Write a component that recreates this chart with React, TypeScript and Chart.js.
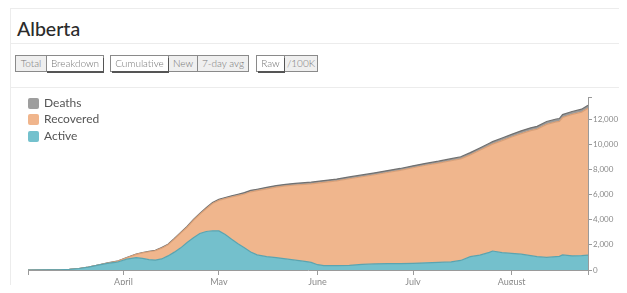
import React, { useEffect, useRef } from "react";
import { Chart, registerables } from "chart.js";

Chart.register(...registerables);

const startDate = "2020-03-02";

const dates = [
  "2020-03-02", "2020-03-08", "2020-03-12", "2020-03-15", "2020-03-18", "2020-03-21", "2020-03-24",
  "2020-03-27", "2020-03-30", "2020-04-02", "2020-04-05", "2020-04-07", "2020-04-09", "2020-04-11",
  "2020-04-13", "2020-04-15", "2020-04-17", "2020-04-19", "2020-04-21", "2020-04-23", "2020-04-25",
  "2020-04-27", "2020-04-29", "2020-05-01", "2020-05-03", "2020-05-05", "2020-05-07", "2020-05-09",
  "2020-05-11", "2020-05-13", "2020-05-16", "2020-05-19", "2020-05-22", "2020-05-25", "2020-05-28",
  "2020-05-30", "2020-06-01", "2020-06-03", "2020-06-07", "2020-06-11", "2020-06-15", "2020-06-19",
  "2020-06-23", "2020-06-27", "2020-07-01", "2020-07-05", "2020-07-09", "2020-07-13", "2020-07-16",
  "2020-07-19", "2020-07-22", "2020-07-25", "2020-07-26", "2020-07-29", "2020-08-01", "2020-08-04",
  "2020-08-07", "2020-08-09", "2020-08-12", "2020-08-15", "2020-08-16", "2020-08-17", "2020-08-20",
  "2020-08-23", "2020-08-25",
];

const active = [
  0, 10, 20, 50, 117, 222, 385,
  520, 620, 860, 990, 930, 820, 790,
  880, 1120, 1420, 1760, 2180, 2560, 2900,
  3060, 3120, 3110, 2820, 2440, 2090, 1760,
  1430, 1200, 1060, 990, 880, 780, 680,
  600, 420, 350, 350, 370, 440, 480,
  500, 500, 530, 570, 600, 640, 760,
  1060, 1180, 1400, 1510, 1380, 1320, 1260,
  1140, 1060, 1000, 1060, 1080, 1200, 1120,
  1150, 1190,
];

const recovered = [
  0, 0, 0, 0, 3, 7, 14,
  38, 72, 115, 256, 432, 628, 740,
  856, 882, 1030, 1177, 1221, 1394, 1527,
  1810, 2163, 2421, 2848, 3362, 3826, 4281,
  4786, 5103, 5390, 5595, 5801, 5976, 6120,
  6238, 6487, 6616, 6732, 6880, 6969, 7088,
  7247, 7416, 7595, 7753, 7891, 8045, 8070,
  8092, 8335, 8487, 8494, 8905, 9248, 9584,
  9940, 10138, 10575, 10712, 10731, 10920, 11250,
  11399, 11668,
];

const deaths = [
  0, 0, 0, 0, 0, 1, 1,
  2, 8, 15, 24, 28, 32, 40,
  44, 48, 50, 53, 59, 66, 73,
  80, 87, 89, 92, 98, 104, 109,
  114, 117, 120, 125, 129, 134, 140,
  142, 143, 144, 148, 150, 151, 152,
  153, 154, 155, 157, 159, 165, 170,
  178, 185, 193, 196, 205, 212, 216,
  220, 222, 225, 228, 229, 230, 230,
  231, 232,
];

const monthTickDates = ["2020-04-01", "2020-05-01", "2020-06-01", "2020-07-01", "2020-08-01"];
const monthTickLabels = ["April", "May", "June", "July", "August"];

const yTickValues = [0, 2000, 4000, 6000, 8000, 10000, 12000];
const yTickLabels = ["0", "2,000", "4,000", "6,000", "8,000", "10,000", "12,000"];
const yMax = 13750;

const seriesNames = ["Active", "Recovered", "Deaths"];
const fillColors = ["#74c0cc", "#f0b68d", "#9b9b9b"];
const lineColors = ["#5aa4b0", "#d9a078", "#707070"];

const dayOf = (d: string) => Math.round((Date.parse(d) - Date.parse(startDate)) / 86400000);

const FONT = "Lato, 'Open Sans', sans-serif";
const CANVAS_W = 660;

function ChartCanvas() {
  const ref = useRef<HTMLCanvasElement>(null);
  useEffect(() => {
    if (!ref.current) return;
    const days = dates.map(dayOf);
    const lastDay = days[days.length - 1];
    const tickDays = monthTickDates.map(dayOf);
    const series = [active, recovered, deaths];
    const chart = new Chart(ref.current, {
      type: "line",
      data: {
        datasets: series.map((vals, i) => ({
          label: seriesNames[i],
          data: vals.map((v, j) => ({ x: days[j], y: v })),
          backgroundColor: fillColors[i],
          borderColor: lineColors[i],
          borderWidth: 1.2,
          pointRadius: 0,
          tension: 0,
          fill: i === 0 ? "origin" : "-1",
        })),
      },
      options: {
        animation: false,
        responsive: false,
        layout: { padding: { left: 28, top: 9, right: 0, bottom: 0 } },
        plugins: { legend: { display: false }, tooltip: { enabled: false } },
        scales: {
          x: {
            type: "linear",
            min: 0,
            max: lastDay,
            afterFit: (s: any) => { s.height = 23; },
            afterBuildTicks: (s: any) => {
              s.ticks = [{ value: 0 }, ...tickDays.map((v) => ({ value: v })), { value: lastDay }];
            },
            ticks: {
              autoSkip: false,
              maxRotation: 0,
              padding: 2,
              color: "#8a8a8a",
              font: { family: FONT, size: 9 },
              callback: (v: any) => {
                const k = tickDays.indexOf(Number(v));
                return k >= 0 ? monthTickLabels[k] : "";
              },
            },
            grid: { drawOnChartArea: false, drawTicks: true, tickLength: 5, color: "#9a9a9a" },
            border: { display: true, color: "#9a9a9a", width: 1 },
          },
          y: {
            position: "right",
            stacked: true,
            min: 0,
            max: yMax,
            afterFit: (s: any) => { s.width = CANVAS_W - 588; },
            afterBuildTicks: (s: any) => {
              s.ticks = [...yTickValues.map((v) => ({ value: v })), { value: yMax }];
            },
            ticks: {
              autoSkip: false,
              padding: 1,
              color: "#8a8a8a",
              font: { family: FONT, size: 8 },
              callback: (v: any) => {
                const k = yTickValues.indexOf(Number(v));
                return k >= 0 ? yTickLabels[k] : "";
              },
            },
            grid: { drawOnChartArea: false, drawTicks: true, tickLength: 4, color: "#9a9a9a" },
            border: { display: true, color: "#9a9a9a", width: 1 },
          },
        },
      },
    } as any);
    return () => chart.destroy();
  }, []);
  return <canvas ref={ref} width={CANVAS_W} height={205} style={{ display: "block", width: CANVAS_W, height: 205 }} />;
}

type Btn = { label: string; width: number; selected: boolean };
const groups: { left: number; buttons: Btn[] }[] = [
  { left: 15, buttons: [{ label: "Total", width: 31, selected: false }, { label: "Breakdown", width: 58, selected: true }] },
  {
    left: 110,
    buttons: [
      { label: "Cumulative", width: 58, selected: true },
      { label: "New", width: 30, selected: false },
      { label: "7-day avg", width: 52, selected: false },
    ],
  },
  { left: 256, buttons: [{ label: "Raw", width: 28, selected: true }, { label: "/100K", width: 34, selected: false }] },
];

const legendItems = [
  { label: "Deaths", color: "#9e9e9e", top: 97 },
  { label: "Recovered", color: "#f0b58c", top: 113 },
  { label: "Active", color: "#74c1cd", top: 130 },
];

export default function App() {
  return (
    <div style={{ position: "relative", margin: -8, width: 627, height: 293, overflow: "hidden", background: "#fff", fontFamily: FONT }}>
      <div style={{ position: "absolute", left: 10, top: 8, width: 640, height: 300, border: "1px solid #ececec", boxSizing: "border-box" }} />
      <div style={{ position: "absolute", left: 10, top: 43, width: 640, height: 1, background: "#ececec" }} />
      <div style={{ position: "absolute", left: 10, top: 87, width: 640, height: 1, background: "#ececec" }} />
      <div style={{ position: "absolute", left: 17, top: 16, fontSize: 19.5, fontWeight: 500, color: "#2b2b2b", lineHeight: "26px" }}>
        Alberta
      </div>
      {groups.map((g, gi) => (
        <div key={gi} style={{ position: "absolute", left: g.left, top: 55, height: 17, display: "flex", border: "1px solid #8a8a8a", boxSizing: "border-box" }}>
          {g.buttons.map((b, bi) => (
            <div
              key={bi}
              style={{
                width: b.width - 1,
                height: 15,
                boxSizing: "border-box",
                borderLeft: bi === 0 ? "none" : "1px solid #8a8a8a",
                background: b.selected ? "#fff" : "#efefef",
                boxShadow: b.selected ? "1px 2px 0 #555" : "none",
                position: "relative",
                zIndex: b.selected ? 1 : 0,
                fontSize: 10,
                fontWeight: 300,
                color: "#777",
                lineHeight: "15px",
                textAlign: "center",
                whiteSpace: "nowrap",
              }}
            >
              {b.label}
            </div>
          ))}
        </div>
      ))}
      <div style={{ position: "absolute", left: 0, top: 88, width: CANVAS_W, height: 205 }}>
        <ChartCanvas />
      </div>
      {legendItems.map((it) => (
        <div key={it.label} style={{ position: "absolute", left: 28, top: it.top, height: 12, display: "flex", alignItems: "center" }}>
          <div style={{ width: 11, height: 11, borderRadius: 2, background: it.color }} />
          <span style={{ marginLeft: 5, fontSize: 12, color: "#555", lineHeight: "12px" }}>{it.label}</span>
        </div>
      ))}
    </div>
  );
}
